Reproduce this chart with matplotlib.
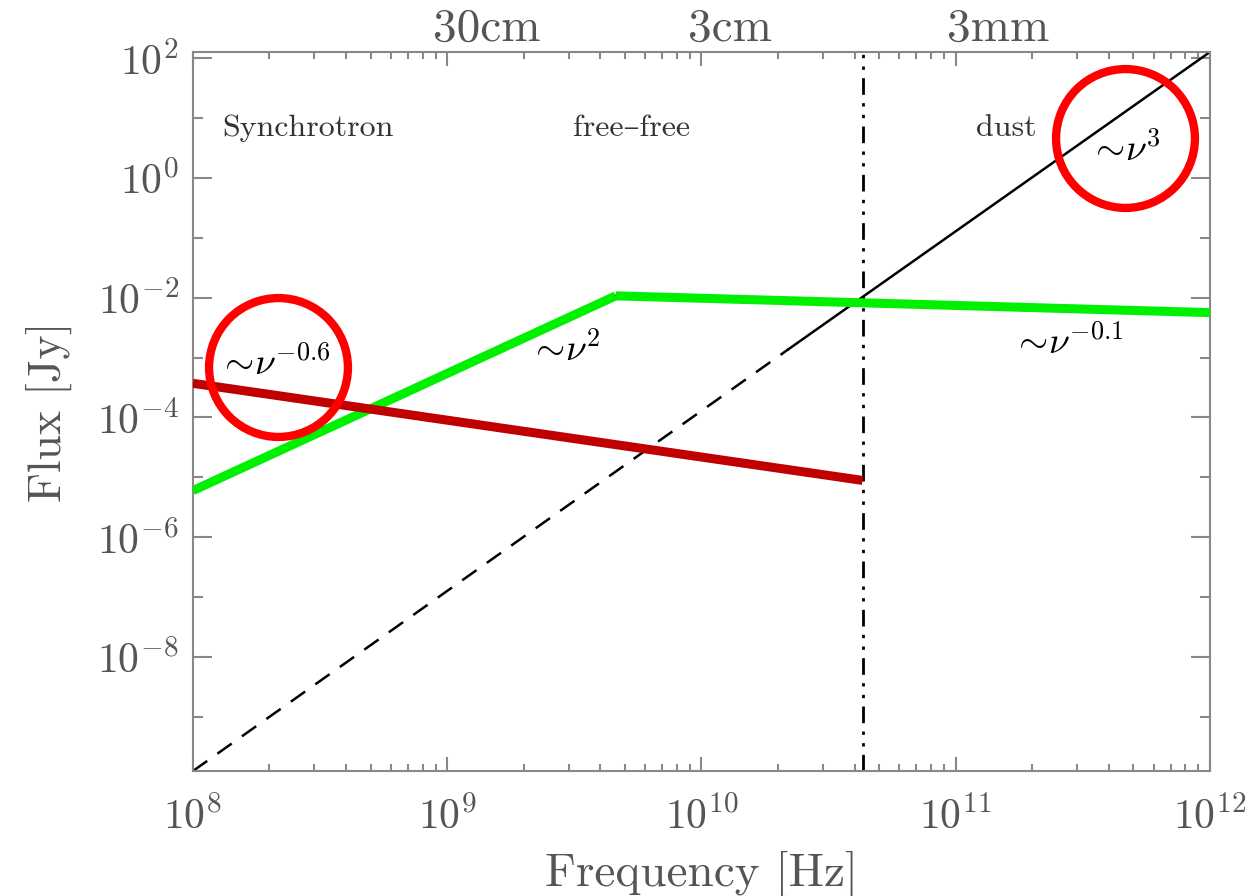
import numpy as np
import matplotlib
matplotlib.use('Agg')
import matplotlib.pyplot as plt
from matplotlib.ticker import FixedLocator, LogLocator, NullFormatter, LogFormatterMathtext

plt.rcParams['font.family'] = ['cmr10', 'DejaVu Serif']
plt.rcParams['mathtext.fontset'] = 'cm'
plt.rcParams['axes.formatter.use_mathtext'] = True
plt.rcParams['axes.unicode_minus'] = False

# Data
nu_dust = [1e8, 2.2e10, 1e12]          # dashed part, then solid part
flux_dust = [10**-9.9, 10**-2.86, 10**2.1]

nu_ff = [1e8, 4.6e9, 1e12]
flux_ff = [10**-5.22, 10**-1.97, 10**-2.25]

nu_sync = [1e8, 4.3e10]
flux_sync = [10**-3.43, 10**-5.05]

nu_split = 4.3e10

# labels
regions = ['Synchrotron', 'free\u2013free', 'dust']
region_x = [10**8.114, 10**9.494, 10**11.08]
region_y = 10**0.82

slopes = [r'$\sim\!\nu^{\mathbf{-0.6}}$', r'$\sim\!\nu^{\mathbf{2}}$',
          r'$\sim\!\nu^{-0.1}$', r'$\sim\!\nu^{\mathbf{3}}$']
slope_x = [10**8.32, 10**9.463, 10**11.44, 10**11.666]
slope_y = [10**-3.10, 10**-2.86, 10**-2.75, 10**0.47]

circ_x = [10**8.334, 10**11.666]
circ_y = [10**-3.15, 10**0.67]

wl_labels = ['30cm', '3cm', '3mm']
wl_x = [10**9.156, 10**10.112, 10**11.166]

fig = plt.figure(figsize=(12.57, 8.96), dpi=100)
ax = fig.add_axes([0.1535, 0.1395, 0.8091, 0.8025])
ax.set_xscale('log')
ax.set_yscale('log')
ax.set_xlim(1e8, 1e12)
ax.set_ylim(10**-9.9, 10**2.1)

# black nu^3 dust line: dashed then solid
ax.plot(nu_dust[:2], flux_dust[:2], color='k', lw=1.8, dashes=(7, 5), zorder=2)
ax.plot(nu_dust[1:], flux_dust[1:], color='k', lw=1.8, zorder=2)
# thin black under the rising free-free part
ax.plot(nu_ff[:2], flux_ff[:2], color='k', lw=1.8, zorder=2)

ax.plot(nu_ff[:2], flux_ff[:2], color='#00f000', lw=6.5, solid_capstyle='butt', zorder=3)
ax.plot(nu_ff[1:], flux_ff[1:], color='#00f000', lw=6.5, solid_capstyle='butt', zorder=3)
ax.plot(nu_sync, flux_sync, color='#c00000', lw=6.5, solid_capstyle='butt', zorder=3)

ax.axvline(nu_split, color='k', lw=2, dashes=(6, 3, 1.2, 3, 1.2, 3), zorder=2)

for t, x in zip(regions, region_x):
    ax.text(x, region_y, t, fontsize=23, color='#333333', ha='left', va='center')

for t, x, y in zip(slopes, slope_x, slope_y):
    ax.text(x, y, t, fontsize=27, color='k', ha='center', va='center', zorder=5)

ax.plot(circ_x, circ_y, 'o', ms=100, mfc='none', mec='#ff0000', mew=6, zorder=6)

for t, x in zip(wl_labels, wl_x):
    ax.text(x, 1.015, t, transform=ax.get_xaxis_transform(), fontsize=34,
            color='#555555', ha='center', va='baseline')

# axes styling
for s in ax.spines.values():
    s.set_color('#888888')
    s.set_linewidth(1.5)

ax.xaxis.set_minor_locator(LogLocator(base=10, subs=np.arange(2, 10)))
ax.xaxis.set_minor_formatter(NullFormatter())
ax.yaxis.set_major_locator(FixedLocator(10.0**np.arange(-8, 3, 2)))
ax.yaxis.set_minor_locator(FixedLocator(10.0**np.arange(-9, 3, 2)))
ax.yaxis.set_major_formatter(LogFormatterMathtext())
ax.yaxis.set_minor_formatter(NullFormatter())

ax.tick_params(which='both', direction='in', top=True, right=True,
               color='#888888', width=1.5, labelcolor='#555555', labelsize=30)
ax.tick_params(axis='x', which='major', length=10, pad=18)
ax.tick_params(axis='x', which='minor', length=5)
ax.tick_params(axis='y', which='major', length=14, pad=10)
ax.tick_params(axis='y', which='minor', length=7)

ax.set_xlabel('Frequency [Hz]', fontsize=34, color='#555555', labelpad=10)
ax.set_ylabel('Flux [Jy]', fontsize=33, color='#555555', labelpad=18)

fig.savefig('out.png', dpi=100)
